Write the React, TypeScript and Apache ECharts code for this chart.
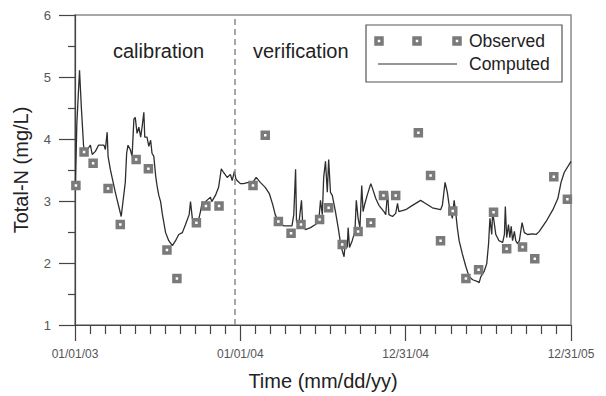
import React, { useEffect, useRef } from "react";
import * as echarts from "echarts";

// x values are days since 01/01/03
const xTickLabels: Record<number, string> = {
  0: "01/01/03",
  365: "01/01/04",
  730: "12/31/04",
  1095: "12/31/05",
};
const yTicks = [1, 2, 3, 4, 5, 6];
const periodLabels = ["calibration", "verification"];
const splitDay = 352;

const observedDays = [
  2, 20, 40, 73, 100, 135, 162, 203, 225, 268, 289, 318,
  393, 420, 449, 477, 499, 540, 560, 590, 625, 653, 681, 708, 758, 785, 807, 834,
  863, 891, 924, 953, 988, 1015, 1057, 1087,
];
const observedValues = [
  3.25, 3.79, 3.61, 3.2, 2.62, 3.67, 3.52, 2.21, 1.75, 2.65, 2.92, 2.92,
  3.25, 4.06, 2.67, 2.48, 2.62, 2.7, 2.89, 2.3, 2.51, 2.65, 3.09, 3.09, 4.1, 3.41, 2.36, 2.84,
  1.75, 1.89, 2.82, 2.23, 2.26, 2.07, 3.39, 3.03,
];

const computedDays = [
  1, 4, 10, 14, 19, 23, 29, 34, 38, 45, 52, 64, 67, 71, 73, 78, 89, 102, 111, 114,
  117, 122, 126, 130, 133, 137, 141, 145, 148, 152, 154, 159, 163, 167, 170, 174, 178, 181, 185, 189,
  193, 200, 207, 215, 222, 229, 237, 244, 252, 255, 259, 266, 272, 277, 281, 284, 291, 299, 302, 310,
  317, 323, 328, 336, 343, 347, 352, 355, 358, 365, 372, 383, 391, 400, 409, 420, 429, 437, 442, 450,
  461, 479, 483, 487, 489, 494, 500, 503, 509, 520, 531, 538, 542, 546, 549, 553, 557, 560, 564, 568,
  575, 581, 586, 590, 594, 597, 601, 603, 606, 612, 618, 621, 625, 629, 633, 636, 640, 645, 653, 656,
  664, 671, 682, 686, 690, 693, 701, 708, 712, 715, 730, 745, 763, 774, 789, 807, 811, 817, 822, 826,
  830, 833, 837, 841, 844, 848, 855, 863, 870, 878, 889, 892, 896, 903, 909, 913, 916, 920, 922, 925,
  929, 936, 944, 948, 950, 953, 957, 960, 963, 966, 970, 973, 977, 981, 987, 992, 999, 1010, 1018, 1025,
  1040, 1055, 1066, 1073, 1080, 1091, 1095,
];
const computedValues = [
  3.25, 4.24, 5.11, 4.51, 3.88, 3.77, 3.85, 3.9, 3.75, 3.8, 3.9, 3.9, 3.83, 4.11, 3.72, 3.51, 3.14, 2.75, 3.3, 3.77,
  3.9, 3.83, 3.72, 4.32, 4.35, 4.09, 4.19, 4.03, 4.19, 4.43, 4.03, 4.03, 3.88, 3.98, 3.77, 3.72, 3.41, 3.25, 3.09, 2.99,
  2.78, 2.49, 2.36, 2.28, 2.36, 2.46, 2.49, 2.62, 2.78, 2.99, 2.72, 2.62, 2.67, 2.83, 2.99, 2.96, 3.01, 3.06, 2.99, 3.09,
  3.22, 3.52, 3.46, 3.38, 3.43, 3.33, 3.48, 3.36, 3.33, 3.28, 3.28, 3.3, 3.28, 3.38, 3.3, 3.22, 3.12, 2.93, 2.78, 2.65,
  2.6, 2.6, 2.78, 3.51, 2.67, 2.62, 3.01, 2.59, 2.54, 2.57, 2.62, 2.67, 3.01, 2.78, 3.38, 3.64, 3.14, 3.67, 3.14, 3.09,
  2.83, 2.57, 2.33, 2.2, 2.1, 2.36, 2.25, 2.57, 2.25, 2.36, 2.51, 3.01, 2.72, 2.57, 3.25, 2.83, 2.96, 3.09, 3.28, 3.22,
  3.04, 2.93, 2.83, 2.78, 3.14, 2.78, 2.75, 2.8, 2.96, 2.83, 2.86, 2.93, 3.01, 2.96, 2.89, 2.86, 2.93, 3.3, 3.14, 2.93,
  2.83, 2.72, 3.01, 2.78, 2.57, 2.36, 2.15, 1.94, 1.78, 1.73, 1.7, 1.68, 1.78, 1.86, 1.99, 2.31, 2.72, 2.46, 2.83, 2.67,
  2.46, 2.36, 2.33, 2.46, 2.91, 2.41, 2.62, 2.41, 2.59, 2.36, 2.51, 2.36, 2.31, 2.36, 2.65, 2.49, 2.46, 2.47, 2.46, 2.51,
  2.67, 2.86, 3.04, 3.3, 3.46, 3.59, 3.64,
];

const FONT = "'Liberation Sans', Arial, sans-serif";

export default function App() {
  const ref = useRef<HTMLDivElement>(null);
  useEffect(() => {
    if (!ref.current) return;
    const chart = echarts.init(ref.current, null, { renderer: "svg" });
    const observed = observedDays.map((d, i) => [d, observedValues[i]]);
    const computed = computedDays.map((d, i) => [d, computedValues[i]]);
    const markerStyle = { fill: "#fff", stroke: "#7a7a7a", lineWidth: 3.5 };
    chart.setOption({
      animation: false,
      backgroundColor: "#fff",
      grid: {
        left: 75,
        right: 35,
        top: 15,
        bottom: 62,
        show: true,
        borderColor: "#8a8a8a",
        borderWidth: 1.5,
      },
      xAxis: {
        type: "value",
        min: 0,
        max: 1095,
        interval: 365,
        name: "Time (mm/dd/yy)",
        nameLocation: "middle",
        nameGap: 46,
        nameTextStyle: { fontFamily: FONT, fontSize: 20, color: "#222" },
        axisLine: { show: true, lineStyle: { color: "#444", width: 1.2 } },
        axisTick: { show: true, length: 16, lineStyle: { color: "#444", width: 1.2 } },
        minorTick: { show: true, splitNumber: 11, length: 9, lineStyle: { color: "#444", width: 1.2 } },
        splitLine: { show: false },
        axisLabel: {
          margin: 23,
          fontFamily: FONT,
          fontSize: 12,
          color: "#555",
          showMaxLabel: true,
          showMinLabel: true,
          formatter: (v: number) => xTickLabels[Math.round(v)] ?? "",
        },
      },
      yAxis: {
        type: "value",
        min: yTicks[0],
        max: yTicks[yTicks.length - 1],
        interval: 1,
        name: "Total-N (mg/L)",
        nameLocation: "middle",
        nameGap: 44,
        nameTextStyle: { fontFamily: FONT, fontSize: 20, color: "#222" },
        axisLine: { show: true, lineStyle: { color: "#444", width: 1.2 } },
        axisTick: { show: true, length: 16, lineStyle: { color: "#444", width: 1.2 } },
        minorTick: { show: true, splitNumber: 2, length: 7, lineStyle: { color: "#444", width: 1.2 } },
        splitLine: { show: false },
        axisLabel: { margin: 24, fontFamily: FONT, fontSize: 13, color: "#555" },
      },
      series: [
        {
          name: "Computed",
          type: "line",
          data: computed,
          showSymbol: false,
          symbol: "none",
          lineStyle: { color: "#2e2e2e", width: 1.3 },
          z: 2,
          markLine: {
            silent: true,
            symbol: ["none", "none"],
            label: { show: false },
            lineStyle: { color: "#8a8a8a", type: [6, 4], width: 1.5 },
            data: [{ xAxis: splitDay }],
          },
        },
        {
          name: "Observed",
          type: "scatter",
          data: observed,
          symbol: "rect",
          symbolSize: 6,
          itemStyle: { color: "#fff", borderColor: "#7a7a7a", borderWidth: 3.5, opacity: 1 },
          z: 3,
        },
      ],
      graphic: [
        {
          type: "text",
          x: 113,
          y: 51,
          style: { text: periodLabels[0], fontFamily: FONT, fontSize: 20, fill: "#222", verticalAlign: "middle" },
        },
        {
          type: "text",
          x: 253,
          y: 51,
          style: { text: periodLabels[1], fontFamily: FONT, fontSize: 20, fill: "#222", verticalAlign: "middle" },
        },
        {
          type: "rect",
          shape: { x: 366, y: 25, width: 196, height: 57 },
          style: { fill: "#fff", stroke: "#555", lineWidth: 1.2 },
          z: 10,
        },
        { type: "rect", shape: { x: 376, y: 38, width: 6, height: 6 }, style: markerStyle, z: 11 },
        { type: "rect", shape: { x: 414, y: 38, width: 6, height: 6 }, style: markerStyle, z: 11 },
        { type: "rect", shape: { x: 454, y: 38, width: 6, height: 6 }, style: markerStyle, z: 11 },
        {
          type: "line",
          shape: { x1: 378, y1: 64, x2: 457, y2: 64 },
          style: { stroke: "#2e2e2e", lineWidth: 1.2 },
          z: 11,
        },
        {
          type: "text",
          x: 469,
          y: 41,
          style: { text: "Observed", fontFamily: FONT, fontSize: 17.5, fill: "#222", verticalAlign: "middle" },
          z: 11,
        },
        {
          type: "text",
          x: 469,
          y: 64,
          style: { text: "Computed", fontFamily: FONT, fontSize: 17.5, fill: "#222", verticalAlign: "middle" },
          z: 11,
        },
      ],
    });
    return () => chart.dispose();
  }, []);
  return (
    <div
      ref={ref}
      style={{ position: "fixed", left: 0, top: 0, width: 606, height: 396, background: "#fff" }}
    />
  );
}
